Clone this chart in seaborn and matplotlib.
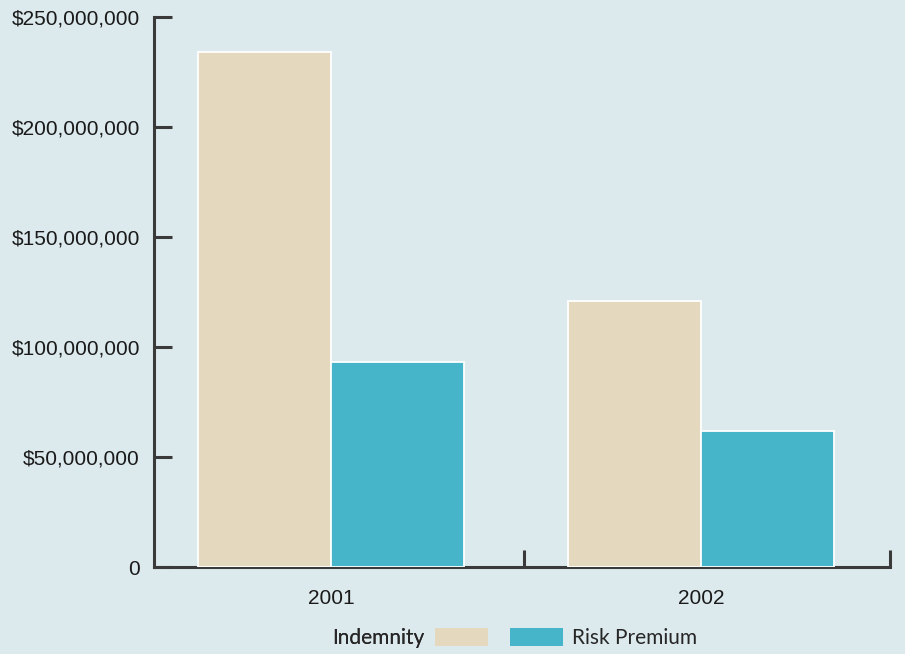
import matplotlib
matplotlib.use("Agg")
import matplotlib.pyplot as plt
import matplotlib.ticker as mticker
import seaborn as sns
import pandas as pd

years = ["2001", "2002"]
series = ["Indemnity", "Risk Premium"]
indemnity = [234_000_000, 121_000_000]
risk_premium = [93_000_000, 62_000_000]
colors = ["#e4d9bf", "#46b5ca"]
yticks = [0, 50_000_000, 100_000_000, 150_000_000, 200_000_000, 250_000_000]

df = pd.DataFrame({
    "Year": years * 2,
    "Series": [series[0]] * len(years) + [series[1]] * len(years),
    "Value": indemnity + risk_premium,
})

bg = "#dce9ed"
axis_col = "#3a3a3a"
sns.set_style("white")
plt.rcParams["font.family"] = ["Liberation Sans", "DejaVu Sans"]

fig = plt.figure(figsize=(9.05, 6.54), dpi=100, facecolor=bg)
ax = fig.add_axes([0.170, 0.133, 0.813, 0.841], facecolor=bg)

sns.barplot(data=df, x="Year", y="Value", hue="Series", order=years,
            hue_order=series, palette=colors, width=0.72, dodge=True,
            edgecolor="white", linewidth=1.3, saturation=1, ax=ax, legend=False)

ax.set_xlim(-0.48, 1.51)
ax.set_ylim(0, 250_000_000)
ax.set_yticks(yticks)
ax.yaxis.set_major_formatter(mticker.FuncFormatter(
    lambda v, p: "0" if v == 0 else "${:,.0f}".format(v)))
ax.set_xlabel("")
ax.set_ylabel("")

for s in ["top", "right"]:
    ax.spines[s].set_visible(False)
for s in ["left", "bottom"]:
    ax.spines[s].set_color(axis_col)
    ax.spines[s].set_linewidth(2.2)
ax.spines["bottom"].set_zorder(0.5)

ax.tick_params(axis="y", left=True, direction="in", length=13, width=2.2,
               color=axis_col, pad=10, labelsize=15, labelcolor="#1a1a1a")
ax.tick_params(axis="x", which="major", bottom=True, length=0, pad=16,
               labelsize=15, labelcolor="#1a1a1a")
ax.set_xticks([0.52, 1.51], minor=True)
ax.tick_params(axis="x", which="minor", bottom=True, direction="in", length=12,
               width=2.2, color=axis_col)

# Legend split in two: text-then-box and box-then-text
handles = [plt.Rectangle((0, 0), 1, 1, facecolor=c, edgecolor="none") for c in colors]
leg1 = fig.legend([handles[0]], [series[0]], loc="center right",
                  bbox_to_anchor=(0.539, 0.025), markerfirst=False, frameon=False,
                  handlelength=2.55, handleheight=0.95, handletextpad=0.5,
                  borderpad=0, borderaxespad=0,
                  prop={"family": ["Lato", "DejaVu Sans"], "size": 15})
leg2 = fig.legend([handles[1]], [series[1]], loc="center left",
                  bbox_to_anchor=(0.563, 0.025), markerfirst=True, frameon=False,
                  handlelength=2.55, handleheight=0.95, handletextpad=0.45,
                  borderpad=0, borderaxespad=0,
                  prop={"family": ["Lato", "DejaVu Sans"], "size": 15})
fig.add_artist(leg1)

fig.savefig("out.png", dpi=100, facecolor=bg)
